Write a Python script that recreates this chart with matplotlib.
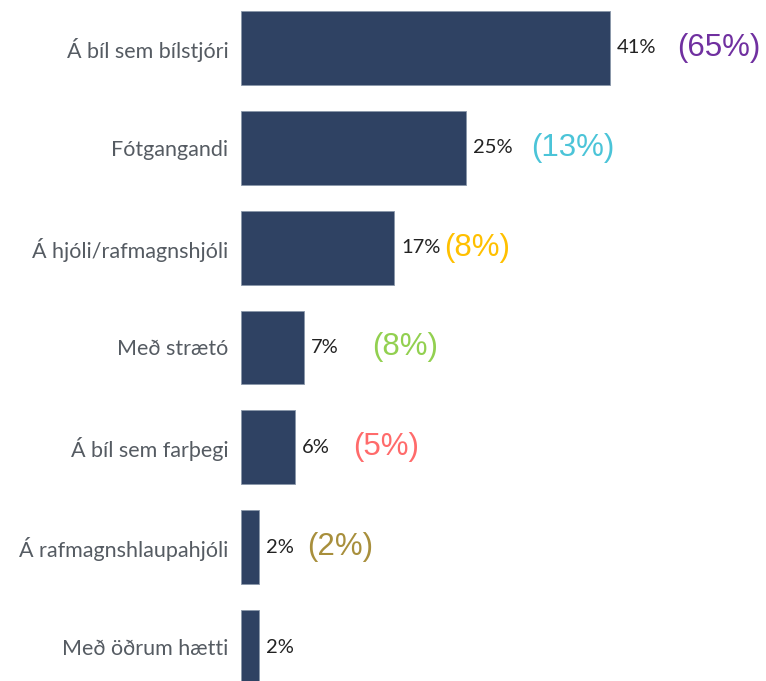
import matplotlib.pyplot as plt

# data
categories = [
    "Á bíl sem bílstjóri",
    "Fótgangandi",
    "Á hjóli/rafmagnshjóli",
    "Með strætó",
    "Á bíl sem farþegi",
    "Á rafmagnshlaupahjóli",
    "Með öðrum hætti",
]
values = [41, 25, 17, 7, 6, 2, 2]
compare_labels = ["(65%)", "(13%)", "(8%)", "(8%)", "(5%)", "(2%)", None]

# style
bar_color = "#2f4263"
compare_colors = ["#7030a0", "#4bc4d8", "#ffc000", "#92d050", "#ff6b6b", "#a88f3c", None]
# offset (points) of the comparison label from the end of the bar
compare_offsets = [48, 47, 36, 49, 42, 35, 0]

fig = plt.figure(figsize=(7.66, 6.81), dpi=100)
ax = fig.add_axes([241 / 766, 0, 1 - 241 / 766, 1])

y = list(range(len(categories)))
ax.barh(y, values, height=0.74, color=bar_color, edgecolor="#8a97aa", linewidth=0.6)

ax.set_xlim(0, 525 / 9)
ax.set_ylim(6.34, -0.48)

ax.set_yticks(y)
ax.set_yticklabels(categories, fontsize=15.5, color="#555b62", family="Lato")
ax.tick_params(axis="y", length=0, pad=9)
ax.set_xticks([])
for s in ax.spines.values():
    s.set_visible(False)

for i, v in enumerate(values):
    ax.annotate(f"{v}%", (v, i), xytext=(5, 0), textcoords="offset points",
                va="center", ha="left", fontsize=14.5, color="#222222", family="Lato")
    if compare_labels[i]:
        ax.annotate(compare_labels[i], (v, i), xytext=(compare_offsets[i], 0),
                    textcoords="offset points", va="center", ha="left",
                    fontsize=22.5, color=compare_colors[i], family="Liberation Sans")

fig.savefig("out.png", dpi=100)
